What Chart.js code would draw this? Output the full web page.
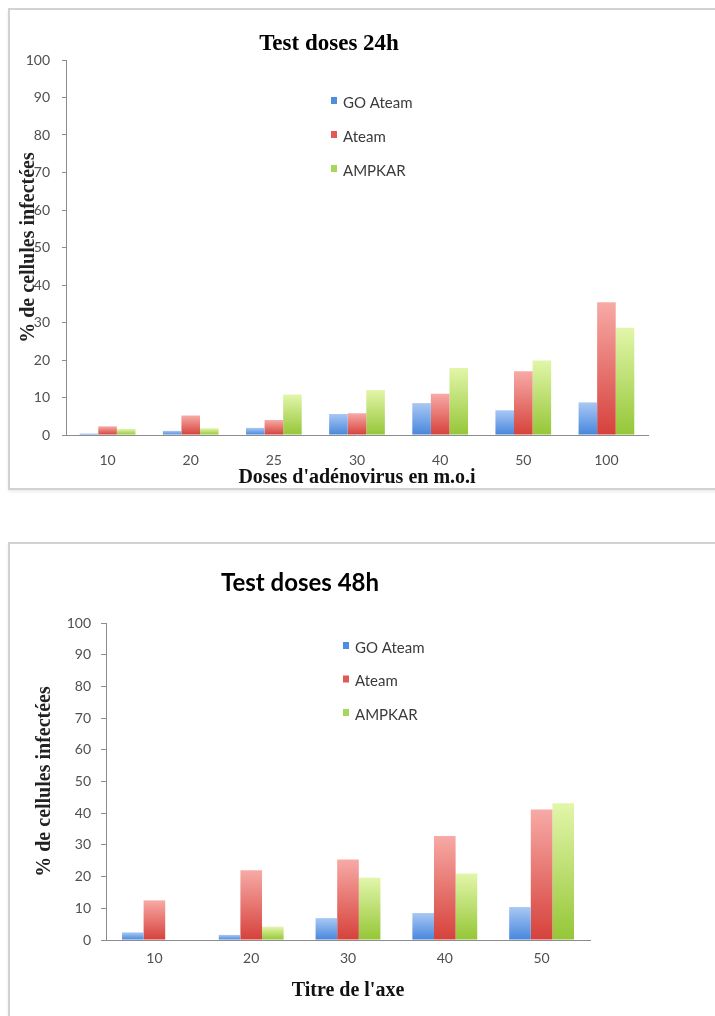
<!DOCTYPE html>
<html>
<head>
<meta charset="utf-8">
<script src="https://cdn.jsdelivr.net/npm/chart.js@4/dist/chart.umd.min.js"></script>
<style>
  body { margin: 0; background: #fff; overflow: hidden; width: 715px; height: 1016px; }
  .frame { position: absolute; box-sizing: border-box; border: 2px solid #d2d2d2; box-shadow: 0 2px 3px rgba(0,0,0,0.08); background: #fff; }
  canvas { position: absolute; }
</style>
</head>
<body>
<div class="frame" style="left:8px; top:8px; width:800px; height:482px;"></div>
<div class="frame" style="left:8px; top:542px; width:800px; height:600px;"></div>
<canvas id="chart24" width="700" height="478" style="left:10px; top:10px;"></canvas>
<canvas id="chart48" width="720" height="471" style="left:10px; top:545px;"></canvas>
<script>
// data
const seriesNames = ['GO Ateam', 'Ateam', 'AMPKAR'];

const doses24 = ['10', '20', '25', '30', '40', '50', '100'];
const goAteam24 = [0.4, 1.1, 1.9, 5.6, 8.5, 6.6, 8.7];
const ateam24 = [2.3, 5.2, 4.0, 5.8, 11.0, 17.0, 35.4];
const ampkar24 = [1.6, 1.8, 10.8, 12.0, 17.9, 19.9, 28.6];

const doses48 = ['10', '20', '30', '40', '50'];
const goAteam48 = [2.4, 1.6, 6.9, 8.5, 10.4];
const ateam48 = [12.5, 22.0, 25.4, 32.8, 41.2];
const ampkar48 = [0, 4.2, 19.6, 21.0, 43.1];

const yMin = 0;
const yMax = 100;
const yStep = 10;

// colours (top of bar, bottom of bar, legend key)
const blue = ['#a9c8f4', '#4786dc', '#4f8de0'];
const red = ['#f7aaa6', '#d6413b', '#e05a55'];
const green = ['#e2f6aa', '#95c637', '#a6d65c'];

// vertical gradient per bar, from the y scale
function barFill(col) {
  return (ctx) => {
    const chart = ctx.chart;
    const y = chart.scales.y;
    if (!y || ctx.type !== 'data') return col[1];
    const y0 = y.getPixelForValue(0);
    const y1 = y.getPixelForValue(ctx.raw);
    if (!isFinite(y1) || y0 - y1 < 1) return col[1];
    const g = chart.ctx.createLinearGradient(0, y1, 0, y0);
    g.addColorStop(0, col[0]);
    g.addColorStop(1, col[1]);
    return g;
  };
}

function makeDatasets(a, b, c) {
  return [a, b, c].map((vals, i) => {
    const col = [blue, red, green][i];
    return {
      label: seriesNames[i],
      data: vals,
      backgroundColor: barFill(col),
      legendColor: col[2],
      borderWidth: 0,
      categoryPercentage: 0.67,
      barPercentage: 1.0
    };
  });
}

// legend drawn inside the plot, one item per line
const insideLegend = {
  id: 'insideLegend',
  afterDraw(chart, args, opts) {
    const c = chart.ctx;
    const a = chart.chartArea;
    c.save();
    chart.data.datasets.forEach((ds, i) => {
      const y = a.top + opts.y + i * opts.gap;
      c.fillStyle = ds.legendColor;
      c.fillRect(a.left + opts.x, y - 6, 6, 7);
      c.fillStyle = '#3a3a3a';
      c.font = '15px Lato';
      c.textBaseline = 'middle';
      c.textAlign = 'left';
      c.fillText(ds.label, a.left + opts.x + 12, y);
    });
    c.restore();
  }
};

const tickFont = { family: 'Lato', size: 14 };
const serifBold = (s) => ({ family: 'Liberation Serif', weight: 'bold', size: s, lineHeight: 1 });

// Test doses 24h
new Chart(document.getElementById('chart24'), {
  type: 'bar',
  data: { labels: doses24, datasets: makeDatasets(goAteam24, ateam24, ampkar24) },
  plugins: [insideLegend],
  options: {
    responsive: false,
    animation: false,
    layout: { padding: { top: 0, right: 62, bottom: 0, left: 0 } },
    plugins: {
      legend: { display: false },
      tooltip: { enabled: false },
      title: {
        display: true,
        text: 'Test doses 24h',
        color: '#000',
        font: { family: 'Liberation Serif', weight: 'bold', size: 23 },
        padding: { top: 20, bottom: 2.4 }
      },
      insideLegend: { x: 265, y: 43, gap: 34 }
    },
    scales: {
      x: {
        grid: { display: false, drawTicks: false },
        border: { color: '#8c8c8c' },
        ticks: { color: '#505050', font: tickFont, padding: 17 },
        title: { display: true, text: "Doses d'adénovirus en m.o.i", color: '#111', font: serifBold(20), padding: { top: 0, bottom: 0 } },
        afterFit(s) { s.height = 53; }
      },
      y: {
        min: yMin,
        max: yMax,
        grid: { drawOnChartArea: false, drawTicks: true, tickLength: 4, color: '#8c8c8c' },
        border: { color: '#8c8c8c' },
        ticks: { stepSize: yStep, color: '#505050', font: tickFont, padding: 12 },
        title: { display: true, text: '% de cellules infectées', color: '#222', font: serifBold(20), padding: { top: 9, bottom: 0 } },
        afterFit(s) { s.width = 56; }
      }
    }
  }
});

// Test doses 48h
new Chart(document.getElementById('chart48'), {
  type: 'bar',
  data: { labels: doses48, datasets: makeDatasets(goAteam48, ateam48, ampkar48) },
  plugins: [insideLegend],
  options: {
    responsive: false,
    animation: false,
    layout: { padding: { top: 0, right: 140, bottom: 0, left: 0 } },
    plugins: {
      legend: { display: false },
      tooltip: { enabled: false },
      title: {
        display: true,
        text: 'Test doses 48h',
        color: '#000',
        font: { family: 'Lato', weight: 'bold', size: 24 },
        padding: { top: 24, bottom: 25.2 }
      },
      insideLegend: { x: 237, y: 25, gap: 33.5 }
    },
    scales: {
      x: {
        grid: { display: false, drawTicks: false },
        border: { color: '#8c8c8c' },
        ticks: { color: '#505050', font: tickFont, padding: 10 },
        title: { display: true, text: "Titre de l'axe", color: '#111', font: serifBold(20), padding: { top: 0, bottom: 15 } },
        afterFit(s) { s.height = 76; }
      },
      y: {
        min: yMin,
        max: yMax,
        grid: { drawOnChartArea: false, drawTicks: true, tickLength: 5, color: '#8c8c8c' },
        border: { color: '#8c8c8c' },
        ticks: { stepSize: yStep, color: '#505050', font: tickFont, padding: 10 },
        title: { display: true, text: '% de cellules infectées', color: '#222', font: serifBold(20), padding: { top: 25, bottom: 0 } },
        afterFit(s) { s.width = 96; }
      }
    }
  }
});
</script>
</body>
</html>
